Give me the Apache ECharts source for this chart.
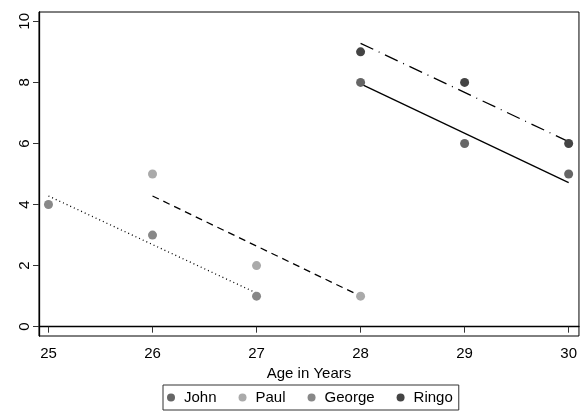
<!DOCTYPE html>
<html>
<head>
<meta charset="utf-8">
<script src="https://cdn.jsdelivr.net/npm/echarts@6/dist/echarts.min.js"></script>
<style>
  html, body { margin: 0; padding: 0; background: #fff; }
  #main { width: 580px; height: 412px; }
</style>
</head>
<body>
<div id="main"></div>
<script>
var xTicks = [25, 26, 27, 28, 29, 30];
var yTicks = [0, 2, 4, 6, 8, 10];

var johnPts = [[28, 8], [29, 6], [30, 5]];
var paulPts = [[26, 5], [27, 2], [28, 1]];
var georgePts = [[25, 4], [26, 3], [27, 1]];
var ringoPts = [[28, 9], [29, 8], [30, 6]];

// fitted line ends
var johnFit = [[28, 7.95], [30, 4.72]];
var paulFit = [[26, 4.28], [28, 1.0]];
var georgeFit = [[25, 4.28], [27, 1.1]];
var ringoFit = [[28, 9.28], [30, 6.06]];

var myChart = echarts.init(document.getElementById('main'));

function dots(name, color, data) {
    return {
        name: name,
        type: 'scatter',
        symbol: 'circle',
        symbolSize: 9,
        itemStyle: { color: color, opacity: 1 },
        data: data,
        z: 3
    };
}

function fit(data, dash) {
    return {
        type: 'line',
        data: data,
        showSymbol: false,
        symbol: 'none',
        silent: true,
        lineStyle: { color: '#000', width: 1.3, type: dash },
        z: 2
    };
}

var font = 'Liberation Sans, Arial, sans-serif';

option = {
    animation: false,
    backgroundColor: '#fff',
    textStyle: { fontFamily: font },
    grid: {
        left: 39,
        right: -2,
        top: 12,
        bottom: 76,
        show: true,
        borderColor: '#000',
        borderWidth: 1
    },
    legend: {
        data: ['John', 'Paul', 'George', 'Ringo'],
        left: 163,
        top: 385,
        icon: 'circle',
        itemWidth: 8,
        itemHeight: 8,
        itemGap: 22,
        padding: [5, 6, 5, 4],
        borderColor: '#333',
        borderWidth: 1,
        textStyle: { fontSize: 15, color: '#000', fontFamily: font, padding: [0, 0, 0, 4] }
    },
    xAxis: {
        type: 'value',
        min: 24.909,
        max: 30.099,
        name: 'Age in Years',
        nameLocation: 'middle',
        nameGap: 22,
        nameTextStyle: { fontSize: 15, color: '#000', fontFamily: font },
        splitLine: { show: false },
        axisLine: { show: true, lineStyle: { color: '#000', width: 1.3 } },
        axisTick: { show: true, length: 6, customValues: xTicks, lineStyle: { color: '#333' } },
        axisLabel: { customValues: xTicks, fontSize: 15, color: '#000', margin: 10, fontFamily: font }
    },
    yAxis: {
        type: 'value',
        min: -0.305,
        max: 10.305,
        splitLine: { show: false },
        axisLine: { show: true, lineStyle: { color: '#000', width: 1.3 } },
        axisTick: { show: true, length: 6, customValues: yTicks, lineStyle: { color: '#333' } },
        axisLabel: { customValues: yTicks, rotate: 90, fontSize: 15, color: '#000', margin: 7, fontFamily: font }
    },
    series: [
        dots('John', '#666666', johnPts),
        dots('Paul', '#aaaaaa', paulPts),
        dots('George', '#888888', georgePts),
        dots('Ringo', '#444444', ringoPts),
        fit(johnFit, 'solid'),
        fit(paulFit, [7, 5]),
        fit(georgeFit, [1, 3]),
        fit(ringoFit, [14, 6, 1, 6])
    ]
};

option && myChart.setOption(option);
</script>
</body>
</html>
